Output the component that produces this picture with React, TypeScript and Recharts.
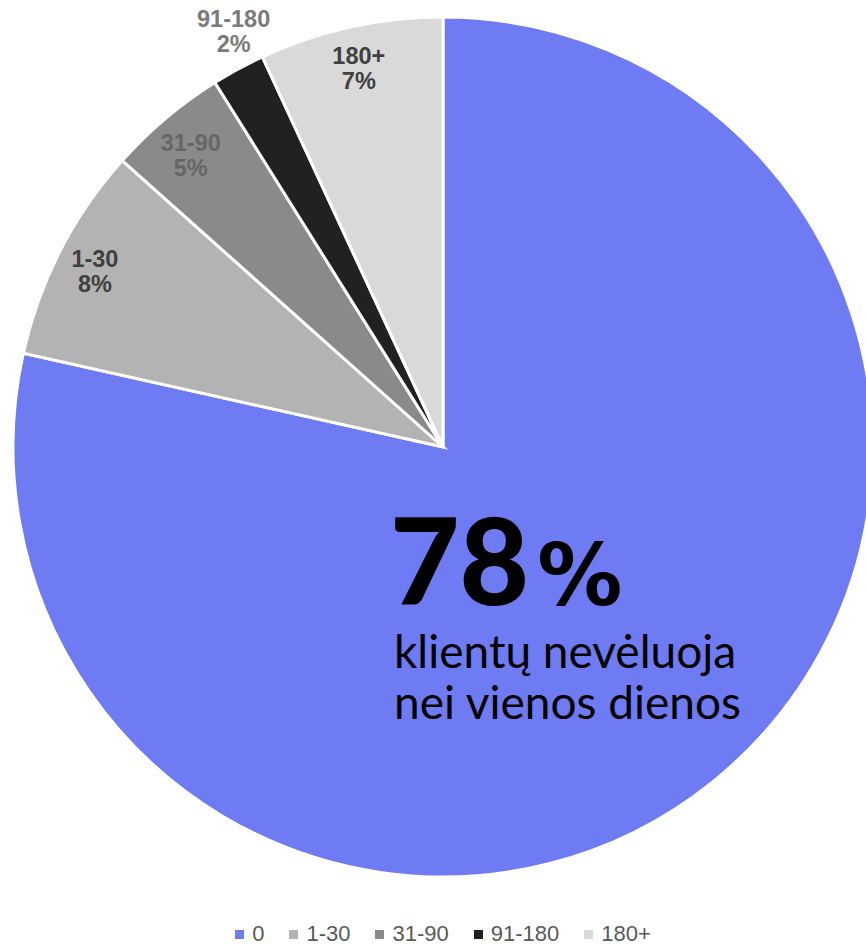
import { PieChart, Pie, Cell, Legend } from "recharts";

const categories = ["0", "1-30", "31-90", "91-180", "180+"];
const shares = [78.5, 8.1, 4.5, 2.0, 6.9];
const shareLabels = ["78%", "8%", "5%", "2%", "7%"];

const COLORS = ["#6f7bf2", "#b3b3b3", "#8a8a8a", "#212121", "#d9d9d9"];
const LABEL_COLORS = ["#000000", "#404040", "#666666", "#7a7a7a", "#404040"];

const data = categories.map((name, i) => ({ name, value: shares[i], pct: shareLabels[i] }));

const RAD = Math.PI / 180;

const renderLabel = (props: any) => {
  const { cx, cy, midAngle, outerRadius, index } = props;
  if (index === 0) return null;
  const outside = shares[index] < 3;
  const fill = LABEL_COLORS[index];
  const style = { fontFamily: "'Liberation Sans', Arial, sans-serif", fontWeight: 700, fontSize: 23.5 };
  if (outside) {
    const r = outerRadius + 18;
    const x = cx + r * Math.cos(-midAngle * RAD) + 4;
    const y = cy + r * Math.sin(-midAngle * RAD);
    return (
      <text x={x} y={y} textAnchor="middle" fill={fill} style={style}>
        <tspan x={x} dy={-26}>{categories[index]}</tspan>
        <tspan x={x} dy={25}>{shareLabels[index]}</tspan>
      </text>
    );
  }
  const r = outerRadius * 0.91;
  const x = cx + r * Math.cos(-midAngle * RAD);
  const y = cy + r * Math.sin(-midAngle * RAD);
  return (
    <text x={x} y={y} textAnchor="middle" fill={fill} style={style}>
      <tspan x={x} dy={index === 2 ? 3 : -1}>{categories[index]}</tspan>
      <tspan x={x} dy={25}>{shareLabels[index]}</tspan>
    </text>
  );
};

const renderLegend = () => (
  <div style={{ display: "flex", justifyContent: "center", gap: 25, fontFamily: "'Liberation Sans', Arial, sans-serif", fontSize: 22, color: "#595959", paddingLeft: 20 }}>
    {categories.map((c, i) => (
      <div key={c} style={{ display: "flex", alignItems: "center", gap: 8 }}>
        <span style={{ width: 9, height: 9, background: COLORS[i], display: "inline-block" }} />
        <span>{c}</span>
      </div>
    ))}
  </div>
);

export default function App() {
  return (
    <div style={{ position: "fixed", left: 0, top: 0, width: 866, height: 945, background: "#fff", overflow: "hidden" }}>
      <PieChart width={866} height={945} margin={{ top: 0, right: 0, bottom: 0, left: 0 }}>
        <Pie
          data={data}
          dataKey="value"
          nameKey="name"
          cx={443}
          cy={447}
          outerRadius={430}
          startAngle={90}
          endAngle={-270}
          stroke="#ffffff"
          strokeWidth={3}
          label={renderLabel}
          labelLine={false}
          isAnimationActive={false}
        >
          {data.map((d, i) => (
            <Cell key={d.name} fill={COLORS[i]} />
          ))}
        </Pie>
        <Legend content={renderLegend} wrapperStyle={{ position: "absolute", left: 0, top: 921, width: 866 }} />
      </PieChart>
      <svg width={866} height={945} style={{ position: "absolute", left: 0, top: 0, pointerEvents: "none" }}>
        <text x={390} y={605} fill="#000" style={{ fontFamily: "Lato, sans-serif", fontWeight: 900, fontSize: 120 }}>
          78
          <tspan dx={8} style={{ fontFamily: "'DejaVu Sans', sans-serif", fontWeight: 700, fontSize: 85 }}>%</tspan>
        </text>
        <text x={394} y={668} fill="#000" style={{ fontFamily: "Lato, sans-serif", fontWeight: 400, fontSize: 46 }}>
          klientų nevėluoja
        </text>
        <text x={394} y={719} fill="#000" style={{ fontFamily: "Lato, sans-serif", fontWeight: 400, fontSize: 46 }}>
          nei vienos dienos
        </text>
      </svg>
    </div>
  );
}
